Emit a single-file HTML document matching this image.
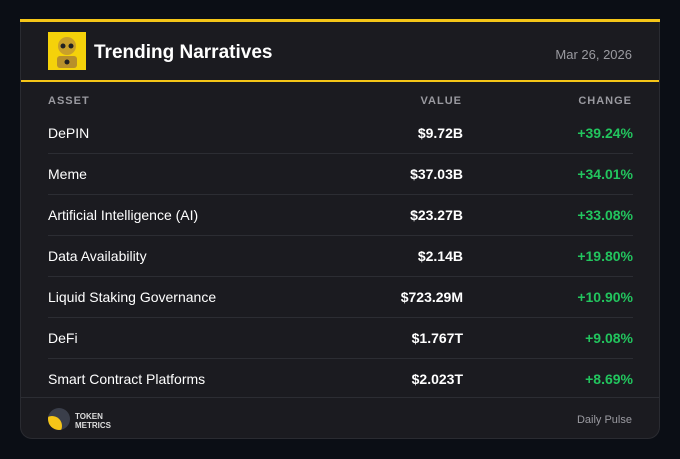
<!DOCTYPE html>
<html><head><style>
*{margin:0;padding:0;box-sizing:border-box}
body{width:680px;height:459px;background:#0b0e15;font-family:"Liberation Sans",sans-serif;position:relative;overflow:hidden}
.card{position:absolute;left:20px;top:20px;width:640px;height:419px;background:#1b1b20;border:1px solid #2a2b31;border-top:none;border-radius:0 0 12px 12px}
.topbar{position:absolute;left:20px;top:19px;width:640px;height:3px;background:#f5c518}
.hdiv{position:absolute;left:0;top:60px;width:638px;height:2px;background:#f5c518}
.logo{position:absolute;left:27px;top:12px;width:38px;height:38px;background:#f5d20a}
.title{position:absolute;left:73px;top:22px;font-size:19px;font-weight:bold;color:#fff}
.date{position:absolute;right:27px;top:27px;font-size:13px;color:#9a9aa0}
.th{position:absolute;top:75px;font-size:11px;font-weight:bold;color:#9a9aa0;letter-spacing:1px}
.row{position:absolute;left:27px;width:585px;height:41px;border-bottom:1px solid #2c2d33;font-size:14px;color:#fff}
.n{position:absolute;left:0;top:12px}
.v{position:absolute;right:170px;top:12px;font-weight:bold}
.c{position:absolute;right:0;top:12px;color:#22c55e;font-weight:bold}
.fdiv{position:absolute;left:0;top:377px;width:638px;height:1px;background:#2c2d33}
.foot{position:absolute;right:27px;top:394px;font-size:11px;color:#9a9aa0}
.tm{position:absolute;left:54px;top:392px;font-size:8px;font-weight:bold;color:#ddd;line-height:9px}
.circ{position:absolute;left:27px;top:388px;width:22px;height:22px;border-radius:50%;background:#3a3e4a;overflow:hidden}
.circ:after{content:"";position:absolute;left:-6px;top:8px;width:20px;height:20px;border-radius:50%;background:#f5c518}
</style></head><body>
<div class="card">
<div class="logo"><svg width="38" height="38"><circle cx="19" cy="14" r="9" fill="#c9a02a"/><circle cx="15" cy="14" r="2.5" fill="#222"/><circle cx="23" cy="14" r="2.5" fill="#222"/><rect x="9" y="24" width="20" height="12" rx="3" fill="#b8902a"/><circle cx="19" cy="30" r="2.5" fill="#222"/></svg></div>
<div class="title">Trending Narratives</div>
<div class="date">Mar 26, 2026</div>
<div class="hdiv"></div>
<div class="th" style="left:27px">ASSET</div>
<div class="th" style="right:197px">VALUE</div>
<div class="th" style="right:27px">CHANGE</div>
<div class="row" style="top:93px"><div class="n">DePIN</div><div class="v">$9.72B</div><div class="c">+39.24%</div></div>
<div class="row" style="top:134px"><div class="n">Meme</div><div class="v">$37.03B</div><div class="c">+34.01%</div></div>
<div class="row" style="top:175px"><div class="n">Artificial Intelligence (AI)</div><div class="v">$23.27B</div><div class="c">+33.08%</div></div>
<div class="row" style="top:216px"><div class="n">Data Availability</div><div class="v">$2.14B</div><div class="c">+19.80%</div></div>
<div class="row" style="top:257px"><div class="n">Liquid Staking Governance</div><div class="v">$723.29M</div><div class="c">+10.90%</div></div>
<div class="row" style="top:298px"><div class="n">DeFi</div><div class="v">$1.767T</div><div class="c">+9.08%</div></div>
<div class="row" style="top:339px;border-bottom:none"><div class="n">Smart Contract Platforms</div><div class="v">$2.023T</div><div class="c">+8.69%</div></div>
<div class="fdiv"></div>
<div class="circ"></div>
<div class="tm">TOKEN<br>METRICS</div>
<div class="foot">Daily Pulse</div>
</div>
<div class="topbar"></div>
</body></html>
